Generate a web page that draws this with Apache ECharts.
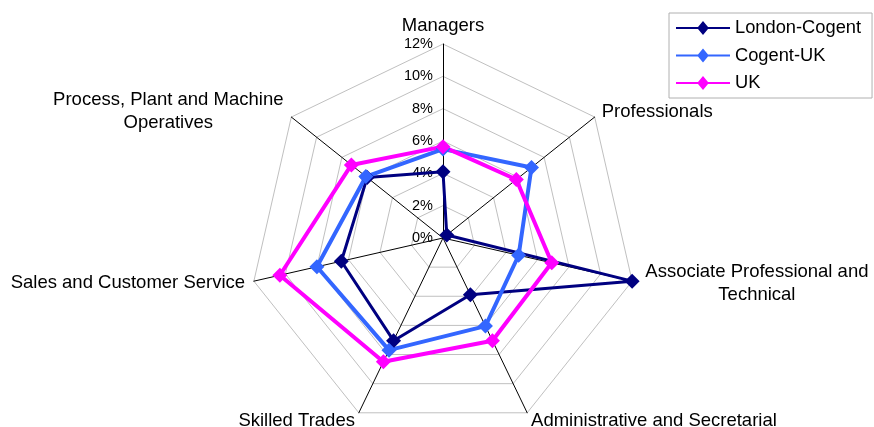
<!DOCTYPE html>
<html><head><meta charset="utf-8">
<script src="https://cdn.jsdelivr.net/npm/echarts@6/dist/echarts.min.js"></script>
<style>html,body{margin:0;padding:0;background:#fff}#c{width:874px;height:427px}</style>
</head><body><div id="c"></div>
<script>
// Categories in clockwise order starting from the top (as in the reference)
const categories = ['Managers', 'Professionals', 'Associate Professional and\nTechnical', 'Administrative and Secretarial', 'Skilled Trades', 'Sales and Customer Service', 'Process, Plant and Machine\nOperatives'];
const seriesNames = ['London-Cogent', 'Cogent-UK', 'UK'];
const londonCogent = [4.1, 0.3, 12.0, 3.9, 7.05, 6.45, 6.0];
const cogentUK = [5.5, 7.0, 4.8, 6.05, 7.7, 8.0, 6.1];
const uk = [5.65, 5.8, 6.9, 7.05, 8.5, 10.35, 7.25];
const axisMax = 12;
const axisStep = 2;

// ECharts lays radar indicators counter-clockwise; reorder to get clockwise layout
const order = [0, 6, 5, 4, 3, 2, 1];
const reorder = arr => order.map(i => arr[i]);

const indicator = reorder(categories).map((name, i) => {
  const o = { name: name, min: 0, max: axisMax };
  if (i === 0) o.axisLabel = { show: true };
  return o;
});

const colors = ['#000080', '#3366ff', '#ff00ff'];
const widths = [3, 4, 4];
const datasets = [londonCogent, cogentUK, uk];
const iconPath = 'path://M0,6L22,6L27,0L32,6L54,6L54,8L32,8L27,14L22,8L0,8Z';
const FONT = 'Liberation Sans, Arial, sans-serif';

const chart = echarts.init(document.getElementById('c'), null, { renderer: 'canvas' });
chart.setOption({
  animation: false,
  backgroundColor: '#fff',
  textStyle: { fontFamily: FONT },
  legend: {
    orient: 'vertical',
    left: 669, top: 13,
    padding: [5, 11, 5, 7],
    itemWidth: 54, itemHeight: 14, itemGap: 7.5,
    borderColor: '#b0b0b0', borderWidth: 1,
    textStyle: { fontSize: 18.3, color: '#000', lineHeight: 20, fontFamily: FONT },
    data: seriesNames.map((n, i) => ({ name: n, icon: iconPath, itemStyle: { color: colors[i] } }))
  },
  radar: {
    center: [443, 238],
    radius: 194,
    shape: 'polygon',
    splitNumber: axisMax / axisStep,
    nameGap: 9,
    axisName: {
      color: '#000', fontSize: 18.5, fontFamily: FONT,
      formatter: function (name) {
        if (name.indexOf('\n') < 0) return name;
        return name.split('\n').map(l => '{c|' + l + '}').join('\n');
      },
      rich: { c: { width: 232, align: 'center', fontSize: 18.5, lineHeight: 23, color: '#000', fontFamily: FONT } }
    },
    axisLine: { lineStyle: { color: '#000', width: 1 } },
    splitLine: { lineStyle: { color: '#c0c0c0', width: 1 } },
    splitArea: { show: false },
    axisTick: { show: false },
    axisLabel: { show: false, color: '#000', fontSize: 14.5, margin: 10, formatter: v => v + '%', fontFamily: FONT },
    indicator: indicator
  },
  series: [{
    type: 'radar',
    data: datasets.map((d, i) => ({
      name: seriesNames[i],
      value: reorder(d),
      symbol: 'diamond',
      symbolSize: 15,
      itemStyle: { color: colors[i] },
      lineStyle: { color: colors[i], width: widths[i] },
      z: i
    }))
  }]
});
</script></body></html>
